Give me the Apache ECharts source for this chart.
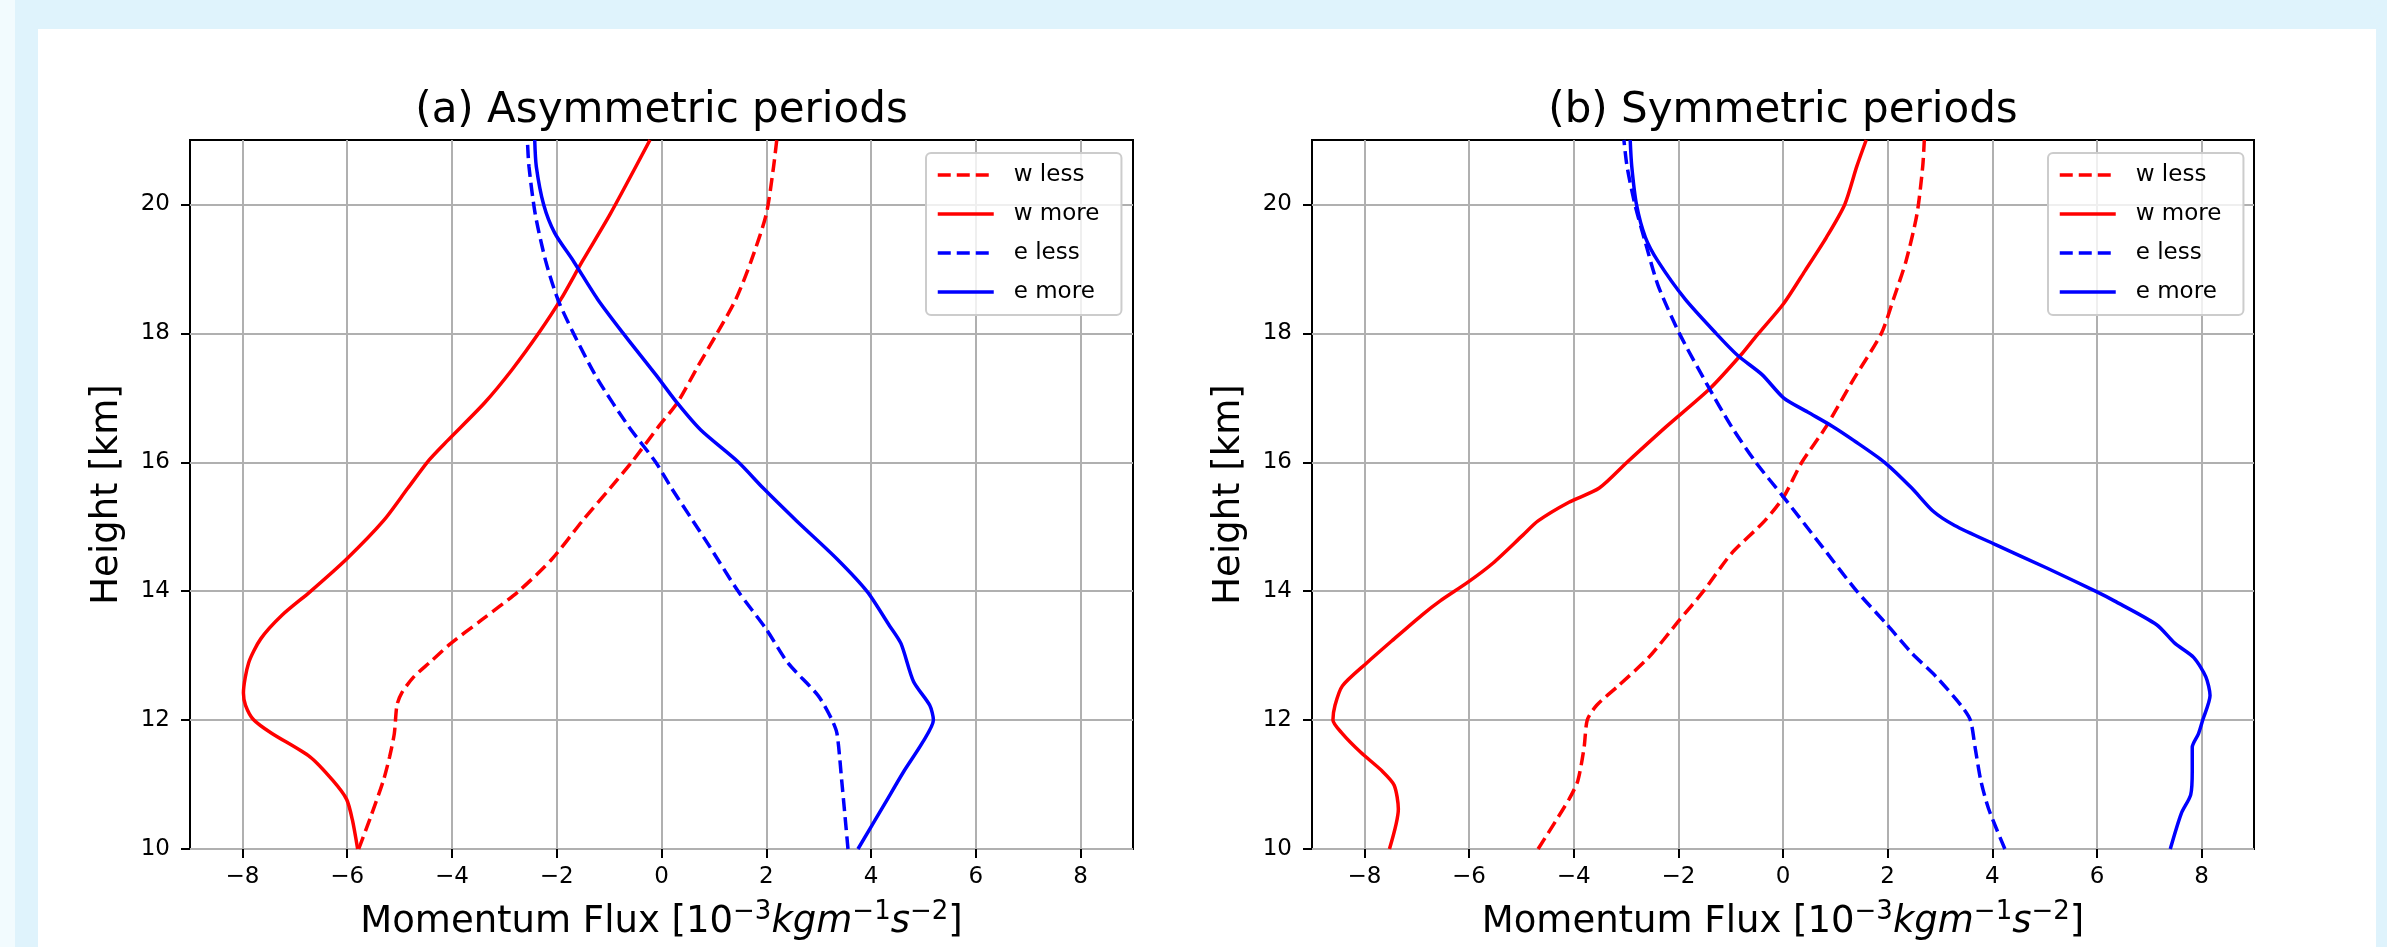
<!DOCTYPE html>
<html>
<head>
<meta charset="utf-8">
<script src="https://cdn.jsdelivr.net/npm/echarts@6/dist/echarts.min.js"></script>
<style>
  html, body { margin: 0; padding: 0; width: 2387px; height: 947px; overflow: hidden; background: #dff3fc; }
  #pale { position: absolute; left: 0; top: 0; width: 15px; height: 947px; background: #f2fbfe; }
  #panel { position: absolute; left: 38px; top: 29px; width: 2338px; height: 918px; background: #ffffff; }
  #chart { position: absolute; left: 0; top: 0; width: 2387px; height: 947px; }
</style>
</head>
<body>
<div id="pale"></div>
<div id="panel"></div>
<div id="chart"></div>
<script>
// ---- data: [momentum flux, height km] ----
const titles = ['(a) Asymmetric periods', '(b) Symmetric periods'];
const seriesNames = ['w less', 'w more', 'e less', 'e more'];
const xTicks = [-8, -6, -4, -2, 0, 2, 4, 6, 8];
const yTicks = [10, 12, 14, 16, 18, 20];

const aWLess = [[-5.78,10],[-5.55,10.5],[-5.31,11.06],[-5.19,11.43],[-5.1,11.79],[-5.05,12.23],[-4.96,12.42],[-4.73,12.67],[-4.43,12.89],[-4.02,13.19],[-3.44,13.55],[-2.74,13.99],[-2.09,14.5],[-1.51,15.09],[-0.98,15.6],[-0.57,16.0],[-0.05,16.56],[0.30,16.92],[0.71,17.51],[1.06,18.0],[1.42,18.53],[1.71,19.12],[2.0,19.85],[2.14,20.59],[2.2,21]];
const aWMore = [[-5.8,10],[-5.9,10.45],[-6.01,10.77],[-6.27,11.06],[-6.71,11.43],[-7.45,11.8],[-7.79,12.01],[-7.94,12.23],[-7.98,12.42],[-7.88,12.89],[-7.65,13.26],[-7.24,13.63],[-6.71,13.99],[-6.01,14.5],[-5.31,15.09],[-4.84,15.6],[-4.43,16.04],[-4.08,16.34],[-3.38,16.92],[-2.85,17.44],[-2.33,18.02],[-1.92,18.53],[-1.51,19.12],[-0.98,19.85],[-0.22,21]];
const aELess = [[3.56,10],[3.44,11.06],[3.35,11.79],[3.25,12.01],[2.99,12.38],[2.41,12.89],[2.0,13.41],[1.47,13.99],[0.89,14.73],[0.6,15.09],[0.19,15.6],[-0.11,16.0],[-0.63,16.56],[-1.22,17.29],[-1.68,18.0],[-1.98,18.53],[-2.21,19.12],[-2.41,19.85],[-2.53,20.59],[-2.56,21]];
const aEMore = [[3.75,10],[4.26,10.7],[4.63,11.21],[4.98,11.65],[5.19,12.0],[5.12,12.23],[4.81,12.6],[4.57,13.19],[4.34,13.48],[3.93,13.99],[3.35,14.5],[2.58,15.09],[1.94,15.6],[1.47,16.0],[0.75,16.5],[0.30,16.92],[-0.11,17.36],[-0.75,18.02],[-1.22,18.53],[-1.68,19.12],[-2.04,19.56],[-2.25,20.0],[-2.39,20.59],[-2.42,21]];

const bWLess = [[-4.68,10],[-4.09,10.77],[-3.92,11.06],[-3.8,11.58],[-3.74,12.0],[-3.56,12.23],[-3.15,12.53],[-2.57,12.97],[-1.98,13.55],[-1.52,14.0],[-0.99,14.58],[-0.35,15.09],[0.01,15.46],[0.36,16.0],[0.83,16.56],[1.35,17.29],[1.88,18.0],[2.11,18.53],[2.35,19.12],[2.56,19.85],[2.67,20.59],[2.7,21]];
const bWMore = [[-7.52,10],[-7.35,10.62],[-7.43,10.99],[-7.66,11.21],[-8.07,11.5],[-8.42,11.79],[-8.6,12.0],[-8.56,12.23],[-8.42,12.53],[-7.95,12.89],[-7.43,13.26],[-6.9,13.63],[-6.55,13.85],[-6.02,14.14],[-5.55,14.43],[-4.97,14.87],[-4.68,15.09],[-4.09,15.38],[-3.51,15.6],[-2.98,16.0],[-2.22,16.56],[-1.4,17.14],[-0.81,17.66],[-0.52,17.95],[0.01,18.46],[0.42,18.97],[0.83,19.49],[1.18,20.0],[1.41,20.59],[1.59,21]];
const bELess = [[4.24,10],[3.93,10.62],[3.78,11.06],[3.67,11.58],[3.58,12.0],[3.4,12.23],[2.93,12.67],[2.46,13.04],[1.99,13.48],[1.41,14.0],[0.71,14.73],[0.01,15.46],[-0.52,16.0],[-0.99,16.56],[-1.46,17.22],[-1.98,18.0],[-2.39,18.75],[-2.63,19.41],[-2.83,20.0],[-2.98,20.59],[-3.04,21]];
const bEMore = [[7.4,10],[7.61,10.55],[7.79,10.84],[7.82,11.21],[7.82,11.58],[7.94,11.79],[8.02,12.0],[8.16,12.38],[8.08,12.67],[7.85,12.97],[7.49,13.19],[7.14,13.48],[6.33,13.85],[5.97,14.0],[5.04,14.36],[4.04,14.73],[3.28,15.02],[2.87,15.24],[2.46,15.6],[1.94,16.0],[1.35,16.34],[0.94,16.56],[0.47,16.78],[0.01,17.0],[-0.4,17.36],[-0.87,17.66],[-1.28,18.0],[-1.87,18.53],[-2.39,19.12],[-2.63,19.49],[-2.8,20.0],[-2.89,20.59],[-2.92,21]];

const panelData = [[aWLess, aWMore, aELess, aEMore], [bWLess, bWMore, bELess, bEMore]];
const seriesColors = ['#ff0000', '#ff0000', '#0000ff', '#0000ff'];
const seriesDashed = [true, false, true, false];

// ---- layout ----
const FONT = 'DejaVu Sans';
const grids = [
  { left: 190, right: 1254, top: 140, bottom: 98 },
  { left: 1312, right: 133, top: 140, bottom: 98 }
];
const legendPos = [{ left: 926, top: 153 }, { left: 2048, top: 153 }];
const titleX = [661.5, 1783];

const fmt = v => (v < 0 ? '\u2212' + Math.abs(v) : String(v));

const option = {
  animation: false,
  backgroundColor: 'transparent',
  title: titles.map((t, i) => ({
    text: t, left: titleX[i], top: 90, textAlign: 'center', textVerticalAlign: 'top',
    padding: 0,
    textStyle: { fontFamily: FONT, fontSize: 42, fontWeight: 'normal', color: '#000' }
  })),
  grid: grids.map(g => Object.assign({ show: true, borderColor: '#000', borderWidth: 2, containLabel: false, outerBoundsMode: 'none' }, g)),
  legend: legendPos.map((p, i) => ({
    orient: 'vertical', left: p.left, top: p.top,
    data: seriesNames,
    itemWidth: 56, itemHeight: 14, itemGap: 13,
    padding: [9, 22, 10, 10],
    backgroundColor: 'rgba(255,255,255,0.8)',
    borderColor: '#cccccc', borderWidth: 2, borderRadius: 5,
    selectedMode: false,
    itemStyle: { opacity: 0, color: 'transparent', borderWidth: 0 },
    lineStyle: { width: 3.5 },
    textStyle: { fontFamily: FONT, fontSize: 23, color: '#000', lineHeight: 26, padding: [0, 0, 0, 15] }
  })),
  xAxis: grids.map((g, i) => ({
    type: 'value', gridIndex: i, min: -9, max: 9,
    name: 'Momentum Flux [10{sup|\u22123}{it|kgm}{sup|\u22121}{it|s}{sup|\u22122}]',
    nameLocation: 'middle', nameGap: 50,
    nameTextStyle: {
      fontFamily: FONT, fontSize: 37, color: '#000', lineHeight: 46,
      rich: {
        sup: { fontFamily: FONT, fontSize: 26, color: '#000', verticalAlign: 'bottom', padding: [0, 0, 20, 0] },
        it: { fontFamily: FONT, fontSize: 37, fontStyle: 'italic', color: '#000' }
      }
    },
    axisLine: { show: false, onZero: false },
    axisTick: { show: true, inside: false, length: 9, customValues: xTicks, lineStyle: { color: '#000', width: 2 } },
    axisLabel: { customValues: xTicks, margin: 17, formatter: fmt, fontFamily: FONT, fontSize: 23, color: '#000' },
    splitLine: { show: true, lineStyle: { color: '#b0b0b0', width: 2 } }
  })),
  yAxis: grids.map((g, i) => ({
    type: 'value', gridIndex: i, min: 10, max: 21,
    name: 'Height [km]', nameLocation: 'middle', nameGap: 64, nameRotate: 90,
    nameTextStyle: { fontFamily: FONT, fontSize: 37, color: '#000' },
    axisLine: { show: false, onZero: false },
    axisTick: { show: true, inside: false, length: 9, customValues: yTicks, lineStyle: { color: '#000', width: 2 } },
    axisLabel: { customValues: yTicks, margin: 20, formatter: fmt, fontFamily: FONT, fontSize: 23, color: '#000' },
    splitLine: { show: true, lineStyle: { color: '#b0b0b0', width: 2 } }
  })),
  series: []
};

panelData.forEach((arrs, p) => {
  arrs.forEach((d, k) => {
    option.series.push({
      type: 'line', name: seriesNames[k], xAxisIndex: p, yAxisIndex: p,
      data: d, symbol: 'none', smooth: 0.25, clip: true,
      color: seriesColors[k],
      lineStyle: { color: seriesColors[k], width: 3.5, type: seriesDashed[k] ? [13, 6] : 'solid' },
      z: 3
    });
  });
});

const chart = echarts.init(document.getElementById('chart'), null, { renderer: 'canvas' });
chart.setOption(option);
</script>
</body>
</html>
